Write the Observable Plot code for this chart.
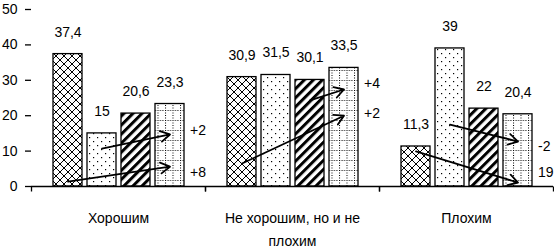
<!DOCTYPE html>
<html><head><meta charset="utf-8">
<script src="https://cdn.jsdelivr.net/npm/d3@7"></script>
<script src="https://cdn.jsdelivr.net/npm/@observablehq/plot@0.6"></script>
<style>body{margin:0;background:#fff} svg{display:block}</style>
</head><body><div id="chart"></div>
<script>
const categories = ["Хорошим", "Не хорошим, но и не плохим", "Плохим"];
const categoryLabels = ["Хорошим", "Не хорошим, но и не\nплохим", "Плохим"];
const series = ["Серия 1", "Серия 2", "Серия 3", "Серия 4"];
const valuesGood = [37.4, 15, 20.6, 23.3];
const valuesNeutral = [30.9, 31.5, 30.1, 33.5];
const valuesBad = [11.3, 39, 22, 20.4];
const yTicks = [0, 10, 20, 30, 40, 50];

// arrows: category index, from series index, start value, to series index, end value
const arrowCats = [0, 0, 1, 1, 2, 2];
const arrowFrom = [0, 1, 0, 2, 1, 0];
const arrowStart = [1.4, 10.7, 6.5, 24.3, 17.5, 9.9];
const arrowTo = [3, 3, 3, 3, 3, 3];
const arrowEnd = [5.6, 14.7, 20, 27.4, 12.7, 1.1];

// change labels next to the arrows
const changeCats = [0, 0, 1, 1, 2, 2];
const changeLabels = ["+2", "+8", "+4", "+2", "-2", "19"];
const changeValues = [15.8, 4.0, 29.1, 20.6, 11.3, 4.0];

const patternIds = ["url(#pat-cross)", "url(#pat-dots)", "url(#pat-stripes)", "url(#pat-grid)"];

const allValues = [valuesGood, valuesNeutral, valuesBad];
const bars = categories.flatMap((c, i) => series.map((s, j) => ({
  category: c, series: s, value: allValues[i][j], pattern: patternIds[j]
})));
const arrows = arrowCats.map((c, i) => ({
  category: categories[c], from: series[arrowFrom[i]], y1: arrowStart[i],
  to: series[arrowTo[i]], y2: arrowEnd[i]
}));
const changes = changeCats.map((c, i) => ({
  category: categories[c], series: series[3], value: changeValues[i], label: changeLabels[i]
}));

const fmt = v => String(v).replace(".", ",");
const tickSymbol = {draw(ctx) { ctx.moveTo(0, 0); ctx.lineTo(0, 5); }};

const chart = Plot.plot({
  width: 554, height: 249,
  marginLeft: 31, marginRight: 1, marginTop: 9, marginBottom: 63,
  style: {fontFamily: "'Liberation Sans', Arial, sans-serif", fontSize: "14px", color: "black", background: "white"},
  fx: {domain: categories, padding: 0, label: null},
  x: {domain: series, paddingInner: 0.16, paddingOuter: 0.6, axis: null},
  y: {domain: [0, 50], label: null},
  color: {type: "identity"},
  marks: [
    Plot.barY(bars, {fx: "category", x: "series", y: "value", fill: "pattern", stroke: "black", strokeWidth: 1.3}),
    Plot.ruleY([0], {stroke: "black", strokeWidth: 1.5}),
    Plot.dot([0], {frameAnchor: "bottom-left", symbol: tickSymbol, stroke: "black", fill: "none", strokeWidth: 1.3}),
    Plot.dot([0], {frameAnchor: "bottom-right", symbol: tickSymbol, stroke: "black", fill: "none", strokeWidth: 1.3}),
    Plot.axisY({ticks: yTicks, tickSize: 6, tickPadding: 8, line: true, label: null, fontSize: 14, strokeWidth: 1.3}),
    Plot.axisFx({anchor: "bottom", tickSize: 0, tickPadding: 21, label: null, fontSize: 14, lineHeight: 1.6,
      tickFormat: c => categoryLabels[categories.indexOf(c)]}),
    Plot.text(bars, {fx: "category", x: "series", y: "value", text: d => fmt(d.value), dy: -22, fontSize: 14, fill: "black"}),
    Plot.arrow(arrows, {fx: "category", x1: "from", y1: "y1", x2: "to", y2: "y2", stroke: "black", strokeWidth: 1.8, headLength: 9, bend: 0}),
    Plot.text(changes, {fx: "category", x: "series", y: "value", text: "label", dx: 20, textAnchor: "start", fontSize: 14, fill: "black"})
  ]
});

const defs = d3.select(chart).insert("defs", ":first-child");
const p1 = defs.append("pattern").attr("id", "pat-cross").attr("patternUnits", "userSpaceOnUse").attr("width", 8).attr("height", 8);
p1.append("rect").attr("width", 8).attr("height", 8).attr("fill", "white");
p1.append("path").attr("d", "M0,0L8,8M8,0L0,8").attr("stroke", "black").attr("stroke-width", 1);
const p2 = defs.append("pattern").attr("id", "pat-dots").attr("patternUnits", "userSpaceOnUse").attr("width", 8).attr("height", 8);
p2.append("rect").attr("width", 8).attr("height", 8).attr("fill", "white");
p2.append("rect").attr("x", 1).attr("y", 1).attr("width", 1.2).attr("height", 1.2).attr("fill", "black");
p2.append("rect").attr("x", 5).attr("y", 5).attr("width", 1.2).attr("height", 1.2).attr("fill", "black");
const p3 = defs.append("pattern").attr("id", "pat-stripes").attr("patternUnits", "userSpaceOnUse").attr("width", 6.4).attr("height", 6.4).attr("patternTransform", "rotate(45)");
p3.append("rect").attr("width", 6.4).attr("height", 6.4).attr("fill", "white");
p3.append("rect").attr("width", 3).attr("height", 6.4).attr("fill", "black");
const p4 = defs.append("pattern").attr("id", "pat-grid").attr("patternUnits", "userSpaceOnUse").attr("width", 7.5).attr("height", 10);
p4.append("rect").attr("width", 7.5).attr("height", 10).attr("fill", "white");
p4.append("path").attr("d", "M0.5,0V10").attr("stroke", "black").attr("stroke-dasharray", "1,1.5");
p4.append("path").attr("d", "M0,0.5H7.5").attr("stroke", "black").attr("stroke-dasharray", "1,1.5");

document.getElementById("chart").appendChild(chart);
</script>
</body></html>
